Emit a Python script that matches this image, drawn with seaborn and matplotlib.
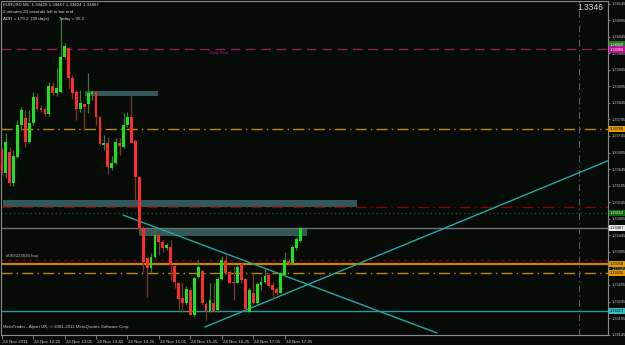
import numpy as np
import pandas as pd
import matplotlib
matplotlib.use("Agg")
import matplotlib.pyplot as plt
import matplotlib.transforms as mtransforms
from matplotlib import font_manager
import seaborn as sns

# ---------------- data ----------------
opens = [1.33703, 1.33633, 1.33697, 1.33603, 1.33681, 1.33778, 1.33799, 1.33727, 1.33784, 1.33863,
         1.33829, 1.33826, 1.33811, 1.33896, 1.33875, 1.33878, 1.33983, 1.34011, 1.33920, 1.33878,
         1.33826, 1.33842, 1.33842, 1.33872, 1.33878, 1.33802, 1.33718, 1.33724, 1.33648, 1.33663,
         1.33724, 1.33712, 1.33778, 1.33802, 1.33730, 1.33621, 1.33467, 1.33377, 1.33346, 1.33380,
         1.33446, 1.33425, 1.33407, 1.33410, 1.33352, 1.33301, 1.33256, 1.33241, 1.33280, 1.33205,
         1.33319, 1.33337, 1.33238, 1.33217, 1.33241, 1.33220, 1.33313, 1.33368, 1.33334, 1.33304,
         1.33301, 1.33355, 1.33313, 1.33214, 1.33271, 1.33241, 1.33295, 1.33304, 1.33325, 1.33295,
         1.33283, 1.33271, 1.33325, 1.33368, 1.33362, 1.33407, 1.33429]
highs = [1.33709, 1.33754, 1.33712, 1.33703, 1.33793, 1.33832, 1.33823, 1.33823, 1.33878, 1.33875,
         1.33838, 1.33832, 1.33908, 1.33908, 1.33950, 1.34101, 1.34026, 1.34014, 1.33929, 1.33884,
         1.33884, 1.33842, 1.33935, 1.33884, 1.33884, 1.33805, 1.33748, 1.33742, 1.33684, 1.33739,
         1.33739, 1.33814, 1.33817, 1.33869, 1.33733, 1.33624, 1.33473, 1.33380, 1.33392, 1.33467,
         1.33461, 1.33431, 1.33422, 1.33431, 1.33355, 1.33304, 1.33304, 1.33292, 1.33289, 1.33319,
         1.33371, 1.33340, 1.33244, 1.33301, 1.33301, 1.33319, 1.33383, 1.33386, 1.33340, 1.33352,
         1.33355, 1.33362, 1.33316, 1.33286, 1.33331, 1.33304, 1.33319, 1.33346, 1.33331, 1.33304,
         1.33289, 1.33331, 1.33395, 1.33374, 1.33416, 1.33440, 1.33467]
lows = [1.33627, 1.33618, 1.33594, 1.33594, 1.33678, 1.33763, 1.33712, 1.33724, 1.33778, 1.33823,
        1.33817, 1.33805, 1.33805, 1.33869, 1.33866, 1.33875, 1.33980, 1.33890, 1.33857, 1.33793,
        1.33817, 1.33763, 1.33814, 1.33854, 1.33778, 1.33718, 1.33703, 1.33630, 1.33642, 1.33660,
        1.33688, 1.33709, 1.33772, 1.33724, 1.33546, 1.33446, 1.33334, 1.33259, 1.33334, 1.33377,
        1.33386, 1.33395, 1.33401, 1.33310, 1.33286, 1.33220, 1.33214, 1.33235, 1.33205, 1.33199,
        1.33316, 1.33235, 1.33189, 1.33214, 1.33214, 1.33214, 1.33310, 1.33325, 1.33301, 1.33250,
        1.33301, 1.33301, 1.33220, 1.33214, 1.33238, 1.33238, 1.33280, 1.33301, 1.33289, 1.33250,
        1.33265, 1.33271, 1.33319, 1.33355, 1.33355, 1.33401, 1.33424]
closes = [1.33633, 1.33727, 1.33603, 1.33684, 1.33778, 1.33823, 1.33727, 1.33784, 1.33863, 1.33826,
          1.33823, 1.33811, 1.33896, 1.33875, 1.33890, 1.33983, 1.34017, 1.33920, 1.33875, 1.33826,
          1.33845, 1.33832, 1.33875, 1.33878, 1.33802, 1.33721, 1.33724, 1.33651, 1.33663, 1.33727,
          1.33715, 1.33778, 1.33802, 1.33724, 1.33621, 1.33467, 1.33365, 1.33346, 1.33380, 1.33446,
          1.33425, 1.33407, 1.33416, 1.33355, 1.33304, 1.33253, 1.33241, 1.33283, 1.33205, 1.33316,
          1.33349, 1.33241, 1.33217, 1.33250, 1.33217, 1.33313, 1.33371, 1.33331, 1.33301, 1.33301,
          1.33349, 1.33310, 1.33223, 1.33280, 1.33241, 1.33298, 1.33304, 1.33322, 1.33292, 1.33280,
          1.33271, 1.33328, 1.33371, 1.33362, 1.33410, 1.33434, 1.33467]

time_tick_bars = [0, 8, 16, 24, 32, 40, 48, 56, 64, 72]
time_tick_labels = ["24 Nov 2011", "24 Nov 12:25", "24 Nov 13:05", "24 Nov 13:45", "24 Nov 14:25",
                    "24 Nov 15:05", "24 Nov 15:45", "24 Nov 16:25", "24 Nov 17:05", "24 Nov 17:45"]

price_ticks = [1.34145, 1.34095, 1.34045, 1.33995, 1.33945, 1.33895, 1.33845, 1.33795, 1.33745,
               1.33695, 1.33645, 1.33595, 1.33545, 1.33495, 1.33445, 1.33395, 1.33345, 1.33295,
               1.33245, 1.33195, 1.33145]

# trend lines (bar index, price)
trend1_x = [30.9, 110.8]
trend1_y = [1.33506, 1.33150]
trend2_x = [51.7, 160.0]
trend2_y = [1.33168, 1.33698]

# zones (bar start, bar end, price low, price high)
zone_x0 = [0.3, 35.2, 21.2]
zone_x1 = [90.4, 77.7, 39.8]
zone_lo = [1.33531, 1.33443, 1.33866]
zone_hi = [1.33552, 1.33467, 1.33881]

# horizontal levels
pivot_level = 1.34008
orange_upper = 1.33766
red_level = 1.33531
green_level = 1.33512
bid_level = 1.33467
order_level = 1.33371
orange_solid = 1.33359
orange_lower = 1.33331
cyan_level = 1.33217
vline_bar = 146.9

box_prices = [1.34021, 1.34006, 1.33766, 1.33512, 1.33467, 1.33359, 1.33331, 1.33217]
box_texts = ["1.34020", "1.34008", "1.33766", "1.33512", "1.33467", "1.33358", "1.33331", "1.33217"]

# ---------------- style ----------------
BG = "#070b07"
sns.set_style("dark", {"axes.facecolor": BG, "figure.facecolor": BG})
available = {f.name for f in font_manager.fontManager.ttflist}
if "Liberation Sans Narrow" in available:
    FONT, K = "Liberation Sans Narrow", 1.0
elif "Liberation Sans" in available:
    FONT, K = "Liberation Sans", 0.82
else:
    FONT, K = "DejaVu Sans", 0.72
plt.rcParams["font.family"] = [FONT, "DejaVu Sans"]

W, H = 625, 345
fig = plt.figure(figsize=(W / 100, H / 100), dpi=100)
fig.patch.set_facecolor(BG)
left_px, right_px, top_px, bot_px = 1, 608, 1, 335
ax = fig.add_axes([left_px / W, 1 - bot_px / H, (right_px - left_px) / W, (bot_px - top_px) / H])
ax.set_facecolor(BG)

df = pd.DataFrame({"o": opens, "h": highs, "l": lows, "c": closes})
df["i"] = np.arange(len(df))
up = df["c"] >= df["o"]

# zones
for x0, x1, lo, hi in zip(zone_x0, zone_x1, zone_lo, zone_hi):
    ax.add_patch(plt.Rectangle((x0, lo), x1 - x0, hi - lo, facecolor="#335858",
                               edgecolor="none", zorder=1))

# horizontal lines
ax.axhline(pivot_level, color="#8a1f55", lw=1, ls=(0, (7, 4)), zorder=2)
ax.axhline(orange_upper, color="#b8860b", lw=1, ls=(0, (8, 3, 1, 3)), zorder=2)
ax.axhline(red_level, color="#8b0000", lw=1, ls=(0, (8, 3, 1, 3)), zorder=2)
ax.axhline(green_level, color="#1e4a1e", lw=1, ls=(0, (1, 2)), zorder=2)
ax.axhline(bid_level, color="#6e6e6e", lw=1, zorder=2)
ax.axhline(order_level, color="#8b0000", lw=1, ls=(0, (2, 3)), zorder=2)
ax.axhline(orange_solid, color="#d08000", lw=1.6, zorder=2)
ax.axhline(orange_lower, color="#b8860b", lw=1, ls=(0, (8, 3, 1, 3)), zorder=2)
ax.axhline(cyan_level, color="#2a9a9a", lw=1, zorder=2)
ax.axvline(vline_bar, color="#5a5a5a", lw=0.8, ls=(0, (6, 3, 1, 3)), zorder=2)

# trend lines
sns.lineplot(x=trend1_x, y=trend1_y, ax=ax, color="#22a8a8", lw=1, zorder=3)
sns.lineplot(x=trend2_x, y=trend2_y, ax=ax, color="#22a8a8", lw=1, zorder=3)

# candles
wick_colors = np.where(up, "#3c7a3c", "#7a3a2a")
ax.vlines(df["i"], df["l"], df["h"], colors=wick_colors, lw=0.9, zorder=4)
body_low = np.minimum(df["o"], df["c"])
body_h = np.maximum(np.abs(df["c"] - df["o"]), 0.00003)
body_colors = np.where(up, "#19e619", "#ff2a2a")
ax.bar(df["i"], body_h, bottom=body_low, width=0.72, color=body_colors, linewidth=0, zorder=5)

# axes limits & ticks
FS_AX = 3.4 * K
ax.set_xlim(-0.18, 154.3)
ax.set_ylim(1.331439, 1.341526)
ax.yaxis.tick_right()
ax.set_yticks(price_ticks)
ax.set_yticklabels([f"{v:.5f}" for v in price_ticks])
ax.tick_params(axis="y", colors="#8a8a8a", labelcolor="#c8c8c8", labelsize=FS_AX,
               length=1.5, width=0.6, pad=1.0, right=True, left=False)
ax.set_xticks(time_tick_bars)
ax.set_xticklabels(time_tick_labels)
ax.tick_params(axis="x", colors="#8a8a8a", labelcolor="#c8c8c8", labelsize=3.9 * K,
               length=3, width=0.6, pad=0.5, bottom=True)
for lab in ax.get_xticklabels():
    lab.set_horizontalalignment("left")
    lab.set_transform(lab.get_transform() + mtransforms.ScaledTranslation(1 / 100, 0, fig.dpi_scale_trans))
ax.grid(False)
for side in ["left", "right", "top", "bottom"]:
    ax.spines[side].set_color("#8a8a8a")
    ax.spines[side].set_linewidth(0.8)

# right axis price boxes
trans = mtransforms.blended_transform_factory(ax.transAxes, ax.transData)
box_styles = [("#1f7a1f", "#ffffff"), ("#c0109a", "#ffffff"), ("#e69a00", "#000000"),
              ("#0b6a0b", "#ffffff"), ("#e8e8e8", "#000000"), ("#e69a00", "#000000"),
              ("#e69a00", "#000000"), ("#30c0c0", "#000000")]
for p, t, (fc, tc) in zip(box_prices, box_texts, box_styles):
    ax.text(1.003, p, t, transform=trans, fontsize=FS_AX, color=tc, va="center", ha="left",
            bbox=dict(boxstyle="square,pad=0.3", facecolor=fc, edgecolor="none"), zorder=10,
            clip_on=False)

# texts
FS_TXT = 3.9 * K
fig.text(3 / W, 1 - 5 / H, "EURUSD,M5  1.33429 1.33467 1.33424 1.33467", fontsize=FS_TXT,
         color="#d8d8d8", va="center", ha="left")
fig.text(3 / W, 1 - 12 / H, "2 minutes 24 seconds left to bar end", fontsize=FS_TXT,
         color="#d8d8d8", va="center", ha="left")
fig.text(3 / W, 1 - 19 / H, "ADR = 179.2  (30 days)        Today = 95.2", fontsize=FS_TXT,
         color="#d8d8d8", va="center", ha="left")
fig.text(603 / W, 1 - 7 / H, "1.3346", fontsize=7.5 * K, color="#d8d8d8", va="center", ha="right")
ax.text(53, pivot_level - 0.00013, "Daily Pivot", fontsize=3.4 * K, color="#b0207a",
        va="center", ha="left", zorder=6)
ax.text(1.0, order_level + 0.00012, "#059223036 buy", fontsize=FS_TXT, color="#bcbcbc",
        va="center", ha="left", zorder=6)
fig.text(3 / W, 1 - 327 / H, "MetaTrader - Alpari UK, \u00a9 2001-2011 MetaQuotes Software Corp.",
         fontsize=FS_TXT, color="#c8c8c8", va="center", ha="left")

fig.savefig("out.png", dpi=100, facecolor=BG)
